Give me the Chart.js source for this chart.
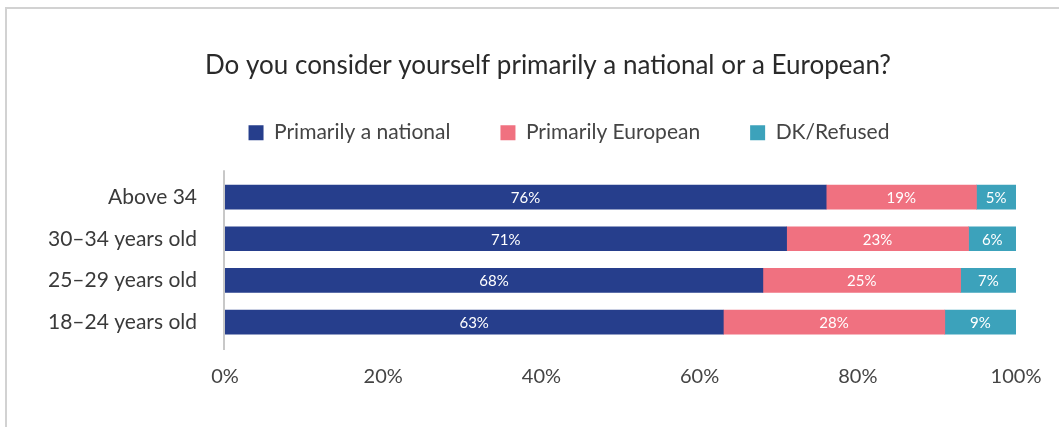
<!DOCTYPE html>
<html>
<head>
<meta charset="utf-8">
<script src="https://cdn.jsdelivr.net/npm/chart.js@4.4.1/dist/chart.umd.min.js"></script>
<style>
    html, body { margin: 0; padding: 0; background: #fff; overflow: hidden; }
    .frame {
        position: absolute; left: 5px; top: 7px; width: 1200px; height: 600px;
        border-top: 2px solid #d2d2d2; border-left: 2px solid #d2d2d2;
    }
    #chart { position: absolute; left: 0; top: 0; }
</style>
</head>
<body>
<div class="frame"></div>
<canvas id="chart" width="1059" height="427"></canvas>
<script>
const ageGroups = ['Above 34', '30\u201334 years old', '25\u201329 years old', '18\u201324 years old'];
const national = [76, 71, 68, 63];
const european = [19, 23, 25, 28];
const refused = [5, 6, 7, 9];
const xTicks = [0, 20, 40, 60, 80, 100];

const FONT = "Lato, 'Open Sans', sans-serif";

// white percentage text centred in each segment
const segmentLabels = {
    id: 'segmentLabels',
    afterDatasetsDraw(chart) {
        const ctx = chart.ctx;
        ctx.save();
        ctx.fillStyle = '#ffffff';
        ctx.font = `15px ${FONT}`;
        ctx.textAlign = 'center';
        ctx.textBaseline = 'middle';
        chart.data.datasets.forEach((ds, i) => {
            chart.getDatasetMeta(i).data.forEach((bar, j) => {
                const { x, y, base } = bar.getProps(['x', 'y', 'base'], true);
                ctx.fillText(ds.data[j] + '%', (x + base) / 2, y + 1);
            });
        });
        ctx.restore();
    }
};

// left axis line runs a little past the bars
const axisLine = {
    id: 'axisLine',
    afterDraw(chart) {
        const { ctx, chartArea } = chart;
        ctx.save();
        ctx.strokeStyle = '#c8c8c8';
        ctx.lineWidth = 2;
        ctx.beginPath();
        ctx.moveTo(chartArea.left - 1, chartArea.top - 6);
        ctx.lineTo(chartArea.left - 1, chartArea.bottom + 7);
        ctx.stroke();
        ctx.restore();
    }
};

// fixed legend height, and title/legend nudged right of the canvas centre
const headerLayout = {
    id: 'headerLayout',
    beforeInit(chart) {
        const fit = chart.legend.fit;
        chart.legend.fit = function () {
            fit.call(this);
            this.height = 94;
        };
    },
    afterLayout(chart) {
        const t = chart.titleBlock;
        t.left += 40; t.right += 40;
        const l = chart.legend;
        l.left += 61; l.right += 61;
        l.top -= 10; l.bottom -= 10;
    }
};

new Chart(document.getElementById('chart'), {
    type: 'bar',
    data: {
        labels: ageGroups,
        datasets: [
            { label: 'Primarily a national', data: national, backgroundColor: '#263e8c' },
            { label: 'Primarily European', data: european, backgroundColor: '#f07180' },
            { label: 'DK/Refused', data: refused, backgroundColor: '#3ca2bb' }
        ]
    },
    options: {
        indexAxis: 'y',
        responsive: false,
        animation: false,
        layout: { padding: { left: 0, right: 43, top: 0, bottom: 16 } },
        datasets: { bar: { barThickness: 24, borderWidth: 0 } },
        scales: {
            x: {
                stacked: true,
                min: 0,
                max: 100,
                afterBuildTicks(scale) {
                    scale.ticks = xTicks.map(v => ({ value: v }));
                },
                afterFit(scale) {
                    scale.paddingLeft = 0;
                    scale.paddingRight = 0;
                },
                grid: { display: false, drawTicks: false },
                border: { display: false },
                ticks: {
                    padding: 22,
                    color: '#444',
                    font: { family: FONT, size: 20 },
                    callback: v => v + '%'
                }
            },
            y: {
                stacked: true,
                afterFit(scale) { scale.width = 225; },
                grid: { display: false, drawTicks: false },
                border: { display: false },
                ticks: {
                    padding: 28,
                    color: '#3a3a3a',
                    font: { family: FONT, size: 21 }
                }
            }
        },
        plugins: {
            title: {
                display: true,
                text: 'Do you consider yourself primarily a national or a European?',
                color: '#2a2a2a',
                font: { family: FONT, size: 26, weight: 'normal' },
                padding: { top: 50, bottom: 1 }
            },
            legend: {
                labels: {
                    boxWidth: 15,
                    boxHeight: 15,
                    padding: 50,
                    color: '#444',
                    font: { family: FONT, size: 21 }
                }
            },
            tooltip: { enabled: false }
        }
    },
    plugins: [segmentLabels, axisLine, headerLayout]
});
</script>
</body>
</html>
